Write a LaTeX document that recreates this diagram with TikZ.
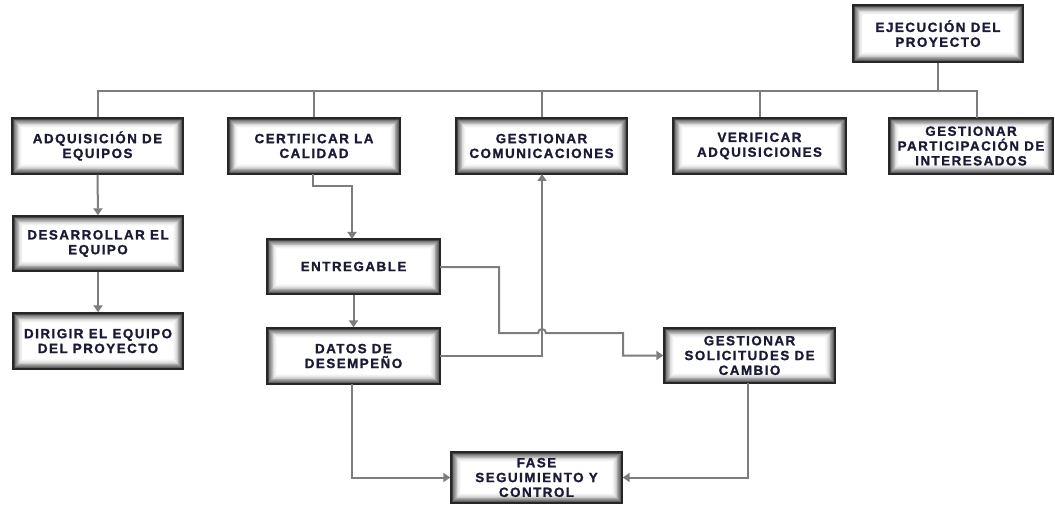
\documentclass[tikz,border=0pt]{standalone}
\usepackage{fontspec}
\usetikzlibrary{arrows.meta,calc}
\newfontfamily\boxfont{Liberation Sans}[LetterSpace=11, BoldFeatures={FakeBold=1.2}]
\definecolor{boxtext}{RGB}{26,26,54}
\definecolor{linkgray}{RGB}{125,125,125}
\definecolor{boxedge}{RGB}{38,38,38}

\tikzset{
  glowbox/.style={
    rectangle, draw=boxedge, line width=1.4pt, fill=white,
    minimum width=171pt, minimum height=56pt, inner sep=0pt,
    align=center, text=boxtext,
    font=\boxfont\bfseries\fontsize{13.4}{14.8}\selectfont,
    path picture={
      \foreach \i/\c in {0/82,1/72,2/62,3/52,4/43,5/35,6/27,7/20,8/14,9/9,10/5,11/2}{
        \draw[line width=0.85pt, draw=black!\c]
          ($(path picture bounding box.south west)+(\i*0.8pt+0.4pt,\i*0.8pt+0.4pt)$)
          rectangle
          ($(path picture bounding box.north east)-(\i*0.8pt+0.4pt,\i*0.8pt+0.4pt)$);
      }
    }
  },
  link/.style={draw=linkgray, line width=2pt},
  flow/.style={link, -{Triangle[length=7pt,width=9pt]}}
}

\begin{document}
\begin{tikzpicture}[x=1pt,y=-1pt]
\useasboundingbox (0,0) rectangle (1055,505);

% top level
\node[glowbox, minimum width=170pt, minimum height=57pt] (ejec) at (938,33.5) {EJECUCIÓN DEL\\PROYECTO};

% first row of processes
\node[glowbox] (adq)   at (97.5,146)  {ADQUISICIÓN DE\\EQUIPOS};
\node[glowbox, minimum width=172pt] (cert)  at (314,146)   {CERTIFICAR LA\\CALIDAD};
\node[glowbox] (gcom)  at (541.5,146) {GESTIONAR\\COMUNICACIONES};
\node[glowbox, minimum width=173pt] (verif) at (759.5,146) {VERIFICAR\\ADQUISICIONES};
\node[glowbox, minimum width=164pt] (gpart) at (971,146)   {GESTIONAR\\PARTICIPACIÓN DE\\INTERESADOS};

% team column
\node[glowbox, minimum width=170pt, minimum height=55pt] (desa)  at (98,243.5) {DESARROLLAR EL\\EQUIPO};
\node[glowbox, minimum width=170pt] (dirig) at (98,341)   {DIRIGIR EL EQUIPO\\DEL PROYECTO};

% quality chain
\node[glowbox, minimum width=173pt, minimum height=55pt] (entreg) at (353.5,266.5) {ENTREGABLE};
\node[glowbox, minimum width=173pt] (datos)  at (353.5,356)   {DATOS DE\\DESEMPEÑO};
\node[glowbox, minimum height=55pt] (gsol)   at (749.5,355.5) {GESTIONAR\\SOLICITUDES DE\\CAMBIO};
\node[glowbox, minimum height=51pt] (fase)   at (536.5,477.5) {FASE\\SEGUIMIENTO Y\\CONTROL};

% bus from the top box
\coordinate (bus) at (938,91);
\coordinate (partdrop) at (977,118);
\draw[link] (ejec.south) -- (bus);
\draw[link] (bus) -| (adq.north);
\draw[link] (bus) -| (cert.north);
\draw[link] (bus) -| (gcom.north);
\draw[link] (bus) -| (verif.north);
\draw[link] (bus) -| (partdrop);

% left column
\draw[flow] (adq.south) -- (desa.north);
\draw[flow] (desa.south) -- (dirig.north);

% quality -> deliverable -> performance data
\coordinate (certout) at (313,174);
\coordinate (entin) at (352,239);
\draw[flow] (certout) -- (313,186) -| (entin);
\draw[flow] (entreg.south) -- (datos.north);

% deliverable -> change requests, hopping over the communications line
\coordinate (entout) at (440,267);
\draw[flow] (entout) -- (499,267) -- (499,333) -- (538,333)
  arc[start angle=180, end angle=0, radius=4pt] -- (623,333) -- (623,355.5) -- (gsol.west);

% performance data -> communications
\coordinate (datout) at (440,356);
\draw[flow] (datout) -- (542,356) -- (542,174);

% into the monitoring phase
\coordinate (datdown) at (352,384);
\coordinate (soldown) at (748,383);
\draw[flow] (datdown) |- (fase.west);
\draw[flow] (soldown) |- (fase.east);
\end{tikzpicture}
\end{document}
